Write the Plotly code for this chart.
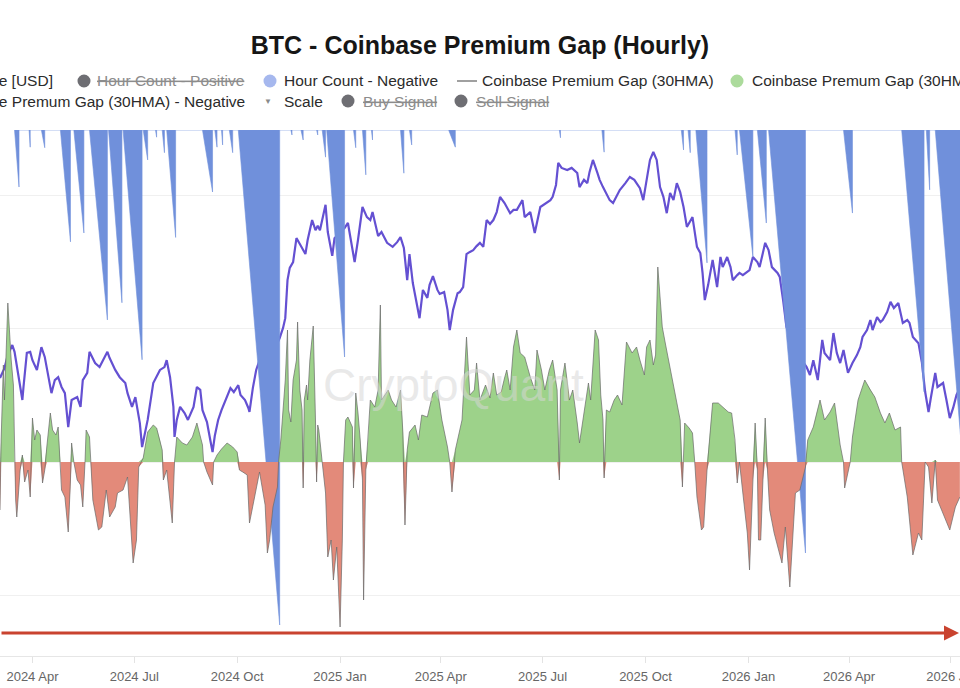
import plotly.graph_objects as go

FONT = "Liberation Sans, Arial, Helvetica, sans-serif"

# ---------------- data ----------------
# BTC price [USD]
price = [
("2024-03-03",63600),("2024-03-07",66300),("2024-03-10",69900),("2024-03-14",72700),("2024-03-16",70800),("2024-03-18",66600),("2024-03-21",60300),("2024-03-23",57500),("2024-03-24",61100),("2024-03-27",70500),
("2024-03-30",70800),("2024-04-01",68500),("2024-04-05",65800),("2024-04-09",72100),("2024-04-12",69400),("2024-04-15",63800),("2024-04-18",59400),("2024-04-21",63000),("2024-04-24",63800),("2024-04-27",61100),
("2024-04-30",59400),("2024-05-03",50000),("2024-05-06",57500),("2024-05-11",58300),("2024-05-14",55600),("2024-05-16",63000),("2024-05-20",65000),("2024-05-22",70800),("2024-05-27",67700),("2024-05-31",66600),
("2024-06-04",69100),("2024-06-07",70800),("2024-06-09",69100),("2024-06-14",65800),("2024-06-18",63800),("2024-06-23",62200),("2024-06-25",59400),("2024-06-29",55600),("2024-07-02",58300),("2024-07-04",54700),
("2024-07-06",51100),("2024-07-08",44500),("2024-07-11",49200),("2024-07-13",52000),("2024-07-18",62200),("2024-07-21",63800),("2024-07-24",65800),("2024-07-28",66600),("2024-07-30",68500),("2024-08-02",63800),
("2024-08-05",55600),("2024-08-06",47300),("2024-08-08",52000),("2024-08-11",55600),("2024-08-15",53900),("2024-08-18",52000),("2024-08-23",55600),("2024-08-26",61100),("2024-08-29",60300),("2024-08-31",54700),
("2024-09-04",51400),("2024-09-07",46400),("2024-09-09",43100),("2024-09-11",47600),("2024-09-14",52000),("2024-09-17",54700),("2024-09-21",57500),("2024-09-25",60800),("2024-09-28",59700),("2024-10-02",61600),
("2024-10-04",58900),("2024-10-08",57500),("2024-10-11",55300),("2024-10-12",54200),("2024-10-15",60800),("2024-10-18",65800),("2024-10-21",68500),("2024-10-26",69900),("2024-10-30",70800),("2024-11-04",71900),
("2024-11-08",74600),("2024-11-11",77400),("2024-11-13",80100),("2024-11-15",90600),("2024-11-17",94000),("2024-11-20",95600),("2024-11-23",102200),("2024-11-26",100600),("2024-12-01",97800),("2024-12-03",101700),
("2024-12-07",107200),("2024-12-10",104400),("2024-12-12",105600),("2024-12-14",104400),("2024-12-19",111400),("2024-12-21",103900),("2024-12-25",97300),("2024-12-27",102200),("2025-01-01",103900),("2025-01-05",105000),
("2025-01-08",106400),("2025-01-12",98400),("2025-01-14",95600),("2025-01-17",101700),("2025-01-19",106700),("2025-01-21",110800),("2025-01-25",108000),("2025-01-28",107200),("2025-01-30",109400),("2025-02-04",102800),
("2025-02-07",103900),("2025-02-12",100900),("2025-02-17",99800),("2025-02-21",101100),("2025-02-24",102500),("2025-02-27",99500),("2025-03-02",90600),("2025-03-04",97800),("2025-03-07",89800),("2025-03-10",85100),
("2025-03-13",80100),("2025-03-16",87900),("2025-03-20",85700),("2025-03-22",89300),("2025-03-25",91700),("2025-03-29",87900),("2025-03-31",86800),("2025-04-04",87300),("2025-04-07",82400),("2025-04-09",76800),
("2025-04-12",82400),("2025-04-16",87000),("2025-04-18",87300),("2025-04-21",88700),("2025-04-24",97800),("2025-04-27",98400),("2025-04-30",98900),("2025-05-03",100000),("2025-05-06",100900),("2025-05-09",99800),
("2025-05-12",107200),("2025-05-15",106100),("2025-05-18",107200),("2025-05-21",109400),("2025-05-24",113600),("2025-05-28",111900),("2025-06-02",109100),("2025-06-05",110000),("2025-06-08",110000),("2025-06-13",112700),
("2025-06-15",108000),("2025-06-20",109400),("2025-06-24",103600),("2025-06-29",110800),("2025-07-02",111400),("2025-07-05",111900),("2025-07-08",112700),("2025-07-10",113600),("2025-07-13",116900),("2025-07-15",123000),
("2025-07-18",121600),("2025-07-23",121000),("2025-07-27",121600),("2025-08-01",120200),("2025-08-03",116300),("2025-08-07",118300),("2025-08-10",117400),("2025-08-12",120500),("2025-08-15",123800),("2025-08-19",120200),
("2025-08-21",118300),("2025-08-24",116300),("2025-08-28",114100),("2025-08-30",112700),("2025-09-02",111900),("2025-09-06",114100),("2025-09-08",115500),("2025-09-13",117400),("2025-09-17",119100),("2025-09-21",118300),
("2025-09-23",117400),("2025-09-26",116000),("2025-09-29",112700),("2025-10-02",118300),("2025-10-05",123800),("2025-10-08",126000),("2025-10-11",123800),("2025-10-14",116300),("2025-10-17",113600),("2025-10-20",109100),
("2025-10-23",114700),("2025-10-26",112700),("2025-10-29",117400),("2025-11-01",114900),("2025-11-04",110800),("2025-11-07",105300),("2025-11-10",107200),("2025-11-12",108000),("2025-11-16",99800),("2025-11-19",98100),
("2025-11-21",92600),("2025-11-23",85100),("2025-11-26",89300),("2025-11-28",92600),("2025-11-30",96200),("2025-12-04",88700),("2025-12-07",97000),("2025-12-09",94200),("2025-12-13",97000),("2025-12-16",94200),
("2025-12-18",90600),("2025-12-22",92000),("2025-12-24",92600),("2025-12-27",92000),("2025-12-31",92800),("2026-01-02",93400),("2026-01-05",97000),("2026-01-09",95600),("2026-01-11",94200),("2026-01-16",100900),
("2026-01-19",98900),("2026-01-22",94200),("2026-01-27",92600),("2026-01-29",91500),("2026-02-01",85100),("2026-02-04",77700),("2026-02-12",72700),("2026-02-19",68000),("2026-02-22",66600),("2026-02-25",64400),
("2026-02-28",68500),("2026-03-04",63000),("2026-03-08",74100),("2026-03-10",70500),("2026-03-15",68500),("2026-03-18",76000),("2026-03-21",70500),("2026-03-24",67700),("2026-03-27",71300),("2026-03-31",65000),
("2026-04-04",67700),("2026-04-08",69900),("2026-04-11",72100),("2026-04-13",74900),("2026-04-17",76800),("2026-04-20",79600),("2026-04-22",76800),("2026-04-26",80400),("2026-04-29",79000),("2026-05-01",79600),
("2026-05-05",81800),("2026-05-08",84600),("2026-05-11",82900),("2026-05-15",84300),("2026-05-19",78800),("2026-05-23",79600),("2026-05-25",78800),("2026-05-28",74900),("2026-06-02",73200),("2026-06-05",68000),
("2026-06-08",59700),("2026-06-11",54200),("2026-06-13",58000),("2026-06-17",65000),("2026-06-19",61100),("2026-06-24",62200),("2026-06-27",57500),("2026-06-30",52500),("2026-07-03",55300),("2026-07-06",58900),
("2026-07-09",60800),
]

# Coinbase Premium Gap (30HMA) [USD]
premium = [
("2024-03-03",-14.4),("2024-03-04",6.6),("2024-03-06",29.1),("2024-03-07",18.6),("2024-03-10",47.7),("2024-03-13",30.6),("2024-03-15",23.1),("2024-03-16",0),("2024-03-17",-11.4),("2024-03-18",-16.5),
("2024-03-21",-2.4),("2024-03-23",2.1),("2024-03-25",-6.0),("2024-03-28",-2.4),("2024-03-30",-10.5),("2024-04-01",13.2),("2024-04-03",6.6),("2024-04-05",9.6),("2024-04-08",8.1),("2024-04-10",-6.3),
("2024-04-12",-2.4),("2024-04-14",5.1),("2024-04-17",14.7),("2024-04-19",9.6),("2024-04-22",8.1),("2024-04-24",10.5),("2024-04-26",0),("2024-04-27",-8.4),("2024-04-30",-10.5),("2024-05-03",-21.0),
("2024-05-05",-5.4),("2024-05-06",5.7),("2024-05-08",0),("2024-05-11",-5.4),("2024-05-14",-6.9),("2024-05-16",-13.5),("2024-05-18",0),("2024-05-19",9.6),("2024-05-22",7.5),("2024-05-23",0),
("2024-05-25",-11.4),("2024-05-30",-20.4),("2024-06-02",-19.5),("2024-06-06",-8.4),("2024-06-09",-16.5),("2024-06-14",-13.5),("2024-06-16",-9.3),("2024-06-21",-8.4),("2024-06-25",-4.5),("2024-06-30",-30.3),
("2024-07-03",-23.4),("2024-07-05",-1.5),("2024-07-09",1.2),("2024-07-13",9.0),("2024-07-18",11.1),("2024-07-21",10.2),("2024-07-24",6.6),("2024-07-26",3.6),("2024-07-27",-5.4),("2024-07-30",-2.4),
("2024-08-04",-18.3),("2024-08-06",0),("2024-08-08",7.5),("2024-08-13",5.7),("2024-08-17",5.1),("2024-08-22",7.5),("2024-08-26",11.7),("2024-08-31",5.1),("2024-09-01",0),("2024-09-04",-3.0),
("2024-09-09",-6.9),("2024-09-10",0),("2024-09-13",2.1),("2024-09-17",3.9),("2024-09-22",5.7),("2024-09-27",4.5),("2024-10-01",3.0),("2024-10-03",-2.4),("2024-10-06",-3.0),("2024-10-10",-3.9),
("2024-10-12",-18.3),("2024-10-17",-9.9),("2024-10-21",-3.0),("2024-10-26",-12.9),("2024-10-28",-27.3),("2024-10-30",-23.4),("2024-11-02",-13.5),("2024-11-06",-7.5),("2024-11-07",0),("2024-11-09",6.6),
("2024-11-11",15.6),("2024-11-13",24.6),("2024-11-15",39.6),("2024-11-16",15.6),("2024-11-18",12.0),("2024-11-20",24.6),("2024-11-23",30.6),("2024-11-24",42.0),("2024-11-26",21.6),("2024-11-28",15.6),
("2024-11-29",-7.8),("2024-11-30",18.6),("2024-12-02",23.1),("2024-12-03",18.6),("2024-12-05",30.6),("2024-12-08",40.8),("2024-12-10",12.6),("2024-12-11",-6.0),("2024-12-12",11.1),("2024-12-13",9.6),
("2024-12-16",0),("2024-12-19",-9.3),("2024-12-21",-28.5),("2024-12-24",-23.4),("2024-12-26",-35.4),("2024-12-29",-25.5),("2025-01-01",-49.5),("2025-01-03",-23.4),("2025-01-04",0),("2025-01-06",12.6),
("2025-01-08",13.5),("2025-01-12",10.5),("2025-01-13",-7.8),("2025-01-15",20.7),("2025-01-17",14.7),("2025-01-19",6.6),("2025-01-21",-5.4),("2025-01-22",-41.4),("2025-01-24",-2.4),("2025-01-26",6.6),
("2025-01-28",18.6),("2025-02-01",16.5),("2025-02-04",21.6),("2025-02-06",47.1),("2025-02-07",18.6),("2025-02-10",20.1),("2025-02-13",21.6),("2025-02-16",18.6),("2025-02-20",16.5),("2025-02-24",21.6),
("2025-02-26",9.6),("2025-02-28",-18.9),("2025-03-02",3.6),("2025-03-04",9.0),("2025-03-09",11.1),("2025-03-12",6.6),("2025-03-15",14.1),("2025-03-20",13.5),("2025-03-25",20.7),("2025-03-29",21.6),
("2025-04-02",12.6),("2025-04-07",4.5),("2025-04-09",0),("2025-04-11",-9.0),("2025-04-14",3.6),("2025-04-16",6.6),("2025-04-20",12.6),("2025-04-24",37.5),("2025-04-27",20.1),("2025-05-01",21.6),
("2025-05-03",29.7),("2025-05-06",18.6),("2025-05-11",23.1),("2025-05-15",19.2),("2025-05-18",26.7),("2025-05-21",20.1),("2025-05-25",21.0),("2025-05-28",25.2),("2025-05-30",27.6),("2025-06-02",21.6),
("2025-06-05",34.5),("2025-06-08",39.6),("2025-06-11",32.7),("2025-06-15",31.5),("2025-06-20",25.5),("2025-06-24",21.6),("2025-06-26",33.6),("2025-06-30",27.6),("2025-07-03",21.6),("2025-07-07",27.6),
("2025-07-10",30.6),("2025-07-14",21.6),("2025-07-16",-5.4),("2025-07-17",21.6),("2025-07-21",29.7),("2025-07-25",18.6),("2025-07-28",21.6),("2025-08-01",11.7),("2025-08-03",5.7),("2025-08-07",14.7),
("2025-08-11",23.7),("2025-08-13",18.6),("2025-08-17",39.6),("2025-08-20",36.6),("2025-08-22",20.1),("2025-08-24",12.6),("2025-08-25",-4.8),("2025-08-27",15.6),("2025-08-30",15.0),("2025-09-03",18.6),
("2025-09-06",20.1),("2025-09-10",17.1),("2025-09-14",36.0),("2025-09-19",32.7),("2025-09-23",34.5),("2025-09-26",30.6),("2025-09-30",26.1),("2025-10-02",34.5),("2025-10-05",36.6),("2025-10-08",29.1),
("2025-10-10",32.1),("2025-10-12",58.5),("2025-10-16",40.5),("2025-10-19",35.1),("2025-10-23",28.5),("2025-10-26",22.5),("2025-10-29",18.6),("2025-11-01",12.6),("2025-11-03",-7.5),("2025-11-04",0),
("2025-11-05",11.7),("2025-11-09",10.2),("2025-11-12",8.7),("2025-11-14",0),("2025-11-16",-10.5),("2025-11-20",-20.4),("2025-11-22",-19.5),("2025-11-25",-2.4),("2025-11-27",6.6),("2025-11-30",17.7),
("2025-12-05",17.7),("2025-12-09",16.5),("2025-12-14",15.0),("2025-12-17",14.7),("2025-12-20",6.6),("2025-12-22",-6.3),("2025-12-24",0),("2025-12-27",-9.3),("2025-12-31",-21.3),("2026-01-02",-32.4),
("2026-01-05",-5.4),("2026-01-07",11.7),("2026-01-09",-2.4),("2026-01-10",-23.4),("2026-01-12",-23.4),("2026-01-14",-5.4),("2026-01-16",13.2),("2026-01-18",-2.4),("2026-01-20",-14.4),("2026-01-24",-21.3),
("2026-01-27",-25.5),("2026-01-31",-30.3),("2026-02-03",-19.5),("2026-02-07",-37.5),("2026-02-12",-9.3),("2026-02-16",-8.4),("2026-02-21",-1.5),("2026-02-23",6.6),("2026-02-28",10.5),("2026-03-03",14.7),
("2026-03-06",18.6),("2026-03-10",12.6),("2026-03-15",15.0),("2026-03-19",17.7),("2026-03-24",5.1),("2026-03-27",0),("2026-03-28",-7.8),("2026-04-02",0),("2026-04-04",7.5),("2026-04-09",18.6),
("2026-04-15",24.6),("2026-04-20",21.6),("2026-04-24",19.5),("2026-04-29",14.7),("2026-05-03",11.7),("2026-05-07",14.7),("2026-05-12",9.6),("2026-05-17",10.5),("2026-05-18",0),("2026-05-23",-10.5),
("2026-05-25",-17.4),("2026-05-28",-27.9),("2026-06-02",-21.3),("2026-06-05",-23.4),("2026-06-08",0),("2026-06-11",-1.5),("2026-06-14",-12.3),("2026-06-17",0.6),("2026-06-19",-11.4),("2026-06-24",-15.3),
("2026-06-30",-20.4),("2026-07-05",-13.5),("2026-07-09",-10.5),
]

# Hour Count - Negative: (start of negative run, end of run, hours counted at the end)
hour_count_negative = [
("2024-03-16","2024-03-20",103),("2024-03-29","2024-03-30",31),("2024-04-09","2024-04-12",32),("2024-04-26","2024-05-05",202),
("2024-05-08","2024-05-17",186),("2024-05-22","2024-06-07",343),("2024-06-08","2024-06-20",312),("2024-06-21","2024-07-08",415),
("2024-07-09","2024-07-13",54),("2024-07-20","2024-07-21",13),("2024-07-26","2024-07-28",41),("2024-07-30","2024-08-07",194),
("2024-08-31","2024-09-09",112),("2024-09-11","2024-09-13",31),("2024-09-17","2024-09-18",27),("2024-09-24","2024-09-27",41),
("2024-10-02","2024-11-08",894),("2024-11-18","2024-11-19",9),("2024-11-27","2024-11-29",18),("2024-12-11","2024-12-12",9),
("2024-12-16","2024-12-19",49),("2024-12-20","2025-01-05",410),("2025-01-13","2025-01-15",32),("2025-01-21","2025-01-24",81),
("2025-01-29","2025-01-30",18),("2025-02-24","2025-02-27",78),("2025-03-04","2025-03-06",27),("2025-04-08","2025-04-14",31),
("2025-07-16","2025-07-17",14),("2025-08-23","2025-08-25",40),("2025-11-02","2025-11-04",36),("2025-11-08","2025-11-10",41),
("2025-11-15","2025-11-25",240),("2025-12-20","2025-12-22",45),("2025-12-24","2026-01-05",229),("2026-01-09","2026-01-17",168),
("2026-01-19","2026-02-21",764),("2026-03-27","2026-04-04",150),("2026-05-18","2026-06-07",473),("2026-06-09","2026-06-12",108),
("2026-06-17","2026-07-11",587),
]

x_range = ["2024-03-03", "2026-07-09 03:00"]
title_text = "BTC - Coinbase Premium Gap (Hourly)"

# ---------------- build series ----------------
price_x = [d for d, _ in price]
price_y = [v for _, v in price]
prem_x = [d for d, _ in premium]
prem_y = [v for _, v in premium]
prem_pos = [max(v, 0) for v in prem_y]
prem_neg = [min(v, 0) for v in prem_y]

hc_x, hc_y = [], []
for s, e, p in hour_count_negative:
    hc_x += [s, e, e]
    hc_y += [0, p, 0]

fig = go.Figure()
fig.add_trace(go.Scatter(x=price_x, y=price_y, mode="lines", yaxis="y",
                         line=dict(color="#6450d2", width=2.2), name="Price [USD]"))
fig.add_trace(go.Scatter(x=hc_x, y=hc_y, mode="lines", yaxis="y2", fill="tozeroy",
                         fillcolor="#7090db", line=dict(color="#7090db", width=0.6),
                         name="Hour Count - Negative"))
fig.add_trace(go.Scatter(x=prem_x, y=prem_pos, mode="lines", yaxis="y3", fill="tozeroy",
                         fillcolor="#9dd28a", line=dict(width=0), name="Premium - Positive"))
fig.add_trace(go.Scatter(x=prem_x, y=prem_neg, mode="lines", yaxis="y3", fill="tozeroy",
                         fillcolor="#e38a7a", line=dict(width=0), name="Premium - Negative"))
fig.add_trace(go.Scatter(x=prem_x, y=prem_y, mode="lines", yaxis="y3",
                         line=dict(color="rgba(105,105,105,0.7)", width=1),
                         name="Coinbase Premium Gap (30HMA)"))

# ---------------- legend drawn as text (it is wider than the picture) ----------------
W = 960.0
R1, R2 = 1.0932, 1.0551
annotations = []
shapes = []

def txt(x, y, text, color="#2b2b2b", anchor="left", size=15.5):
    annotations.append(dict(x=x / W, y=y, xref="paper", yref="paper", text=text,
                            showarrow=False, xanchor=anchor, yanchor="middle",
                            borderpad=0, font=dict(family=FONT, size=size, color=color)))

def dot(x, y, color, r=6.5):
    shapes.append(dict(type="circle", xref="paper", yref="paper",
                       xsizemode="pixel", ysizemode="pixel", xanchor=x / W, yanchor=y,
                       x0=-r, x1=r, y0=-r, y1=r, fillcolor=color, line=dict(width=0)))

txt(54, R1, "Price [USD]", anchor="right")
dot(84, R1, "#6e6e73")
txt(96, R1, "<s>Hour Count - Positive</s>", color="#8c8c8c")
dot(270, R1, "#a6b8ee")
txt(283, R1, "Hour Count - Negative")
shapes.append(dict(type="line", xref="paper", yref="paper", x0=457 / W, x1=477 / W,
                   y0=R1, y1=R1, line=dict(color="#a0a0a0", width=2)))
txt(481, R1, "Coinbase Premium Gap (30HMA)")
dot(737, R1, "#acdb9c")
txt(751, R1, "Coinbase Premum Gap (30HMA) - Positive")

txt(246, R2, "Coinbase Premum Gap (30HMA) - Negative", anchor="right")
txt(268, R2, "▼", color="#8a8a8a", anchor="center", size=8)
txt(283, R2, "Scale")
dot(348, R2, "#6e6e73")
txt(362, R2, "<s>Buy Signal</s>", color="#8c8c8c")
dot(461, R2, "#6e6e73")
txt(475, R2, "<s>Sell Signal</s>", color="#8c8c8c")

# watermark
annotations.append(dict(x=0.472, y=0.515, xref="paper", yref="paper", text="CryptoQuant",
                        showarrow=False, font=dict(family=FONT, size=46,
                                                   color="rgba(215,215,215,0.55)")))
# red arrow drawn across the bottom
annotations.append(dict(x=1.0, y=0.0437, xref="paper", yref="paper", text="",
                        showarrow=True, ax=-980, ay=0, axref="pixel", ayref="pixel",
                        arrowhead=2, arrowsize=1, arrowwidth=3, arrowcolor="#c9432f"))

fig.update_layout(
    template="none",
    width=960, height=688,
    margin=dict(l=0, r=0, t=130, b=32, pad=0),
    paper_bgcolor="white", plot_bgcolor="white",
    showlegend=False,
    title=dict(text="<b>" + title_text + "</b>", x=0.5, xanchor="center",
               y=1 - 45 / 688, yanchor="middle",
               font=dict(family=FONT, size=25, color="#161616")),
    xaxis=dict(type="date", range=x_range, tickformat="%Y %b", dtick="M3",
               tick0="2024-01-01", showgrid=False, zeroline=False,
               showline=True, linecolor="#e6e6e6", linewidth=1,
               ticks="outside", ticklen=6, tickcolor="#e3e3e3",
               tickfont=dict(family=FONT, size=13, color="#666666"),
               ticklabeloverflow="allow", ticklabelstandoff=2, automargin=False),
    yaxis=dict(range=[-13200, 132070], visible=False, automargin=False),
    yaxis2=dict(range=[950, 0], overlaying="y", visible=False, automargin=False),
    yaxis3=dict(range=[-58.2, 99.6], overlaying="y", showgrid=True, gridcolor="#f0f0f0",
                gridwidth=1, dtick=40, tick0=0, showticklabels=False, zeroline=False,
                ticks="", showline=False, automargin=False),
    annotations=annotations,
    shapes=shapes,
)

fig.write_html("out.html", config={"displayModeBar": False})
